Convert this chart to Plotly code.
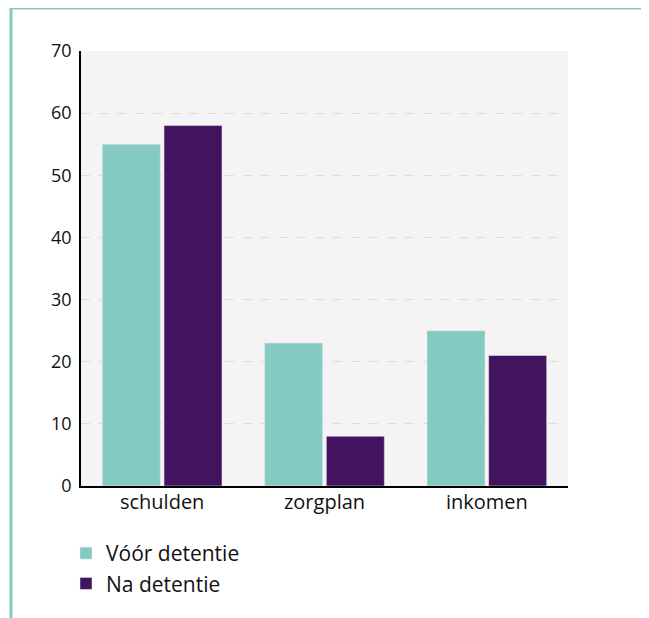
import plotly.graph_objects as go

categories = ["schulden", "zorgplan", "inkomen"]
voor_detentie = [55, 23, 25]
na_detentie = [58, 8, 21]
y_ticks = [0, 10, 20, 30, 40, 50, 60, 70]

# page offset of the figure inside the browser window (default body margin)
OFF = 8
W, H = 649 - OFF, 618 - OFF
# target plot-area in screen pixels: x 81..568, y 51..486
L, T = 81 - OFF, 51 - OFF
R = W - (568 - OFF)
B = H - (486 - OFF)
pw, ph = W - L - R, H - T - B

def px_x(x):
    return (x - OFF - L) / pw

def px_y(y):
    return (H - B - (y - OFF)) / ph

teal = "#84cac0"
purple = "#42145f"

fig = go.Figure()
fig.add_trace(go.Bar(x=categories, y=voor_detentie, name="Vóór detentie", marker_color=teal))
fig.add_trace(go.Bar(x=categories, y=na_detentie, name="Na detentie", marker_color=purple))

fig.update_layout(
    width=W, height=H,
    margin=dict(l=L, r=R, t=T, b=B, pad=0),
    paper_bgcolor="white",
    plot_bgcolor="#f4f4f4",
    barmode="group",
    bargap=0.24,
    bargroupgap=0.06,
    font=dict(family="Open Sans, sans-serif", size=18, color="#111111"),
    showlegend=True,
    legend=dict(
        x=px_x(66), y=px_y(533), xanchor="left", yanchor="top",
        orientation="v", font=dict(size=21), bgcolor="rgba(0,0,0,0)",
        tracegroupgap=8,
    ),
    xaxis=dict(
        showline=True, linecolor="black", linewidth=2,
        ticks="", tickfont=dict(size=20), ticklabelstandoff=-3,
        showgrid=False,
    ),
    yaxis=dict(
        range=[0, 70], tickvals=y_ticks,
        showline=True, linecolor="black", linewidth=1.5,
        ticks="", ticklabelstandoff=4, tickfont=dict(size=18),
        showgrid=True, gridcolor="#dcdcdc", griddash="dash", gridwidth=1,
        zeroline=False,
    ),
    shapes=[
        dict(type="line", xref="paper", yref="paper",
             x0=px_x(11), x1=px_x(11), y0=px_y(7), y1=px_y(640),
             line=dict(color=teal, width=3)),
        dict(type="line", xref="paper", yref="paper",
             x0=px_x(9.5), x1=px_x(660), y0=px_y(8), y1=px_y(8),
             line=dict(color=teal, width=3)),
    ],
)

fig.write_html("out.html")
